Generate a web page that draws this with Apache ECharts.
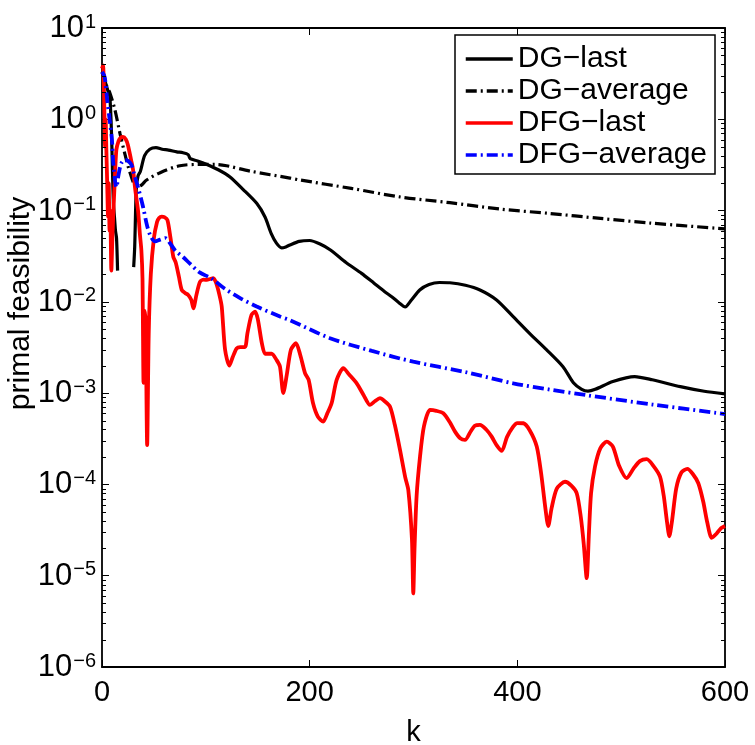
<!DOCTYPE html>
<html>
<head>
<meta charset="utf-8">
<script src="https://cdn.jsdelivr.net/npm/echarts@6/dist/echarts.min.js"></script>
<style>html,body{margin:0;padding:0;background:#fff}#c{width:755px;height:745px}</style>
</head>
<body>
<div id="c"></div>
<script>
// ---- data ----
const xTicks = [0, 200, 400, 600];
const yTickExponents = [1, 0, -1, -2, -3, -4, -5, -6];
const seriesNames = ['DG\u2212last', 'DG\u2212average', 'DFG\u2212last', 'DFG\u2212average'];

const kDGlast = [0, 3, 6, 7.5, 9, 10, 11, 12, 13, 14, 15, 16,
  30.5, 31.5, 33, 34.7, 37, 41, 46, 52, 58, 64, 72, 78, 83, 85, 92, 101, 112, 123, 136, 149, 157, 163, 168, 173, 177, 181, 190, 200, 210, 220, 235, 250, 262, 272, 279, 286, 292, 298, 306, 315, 325, 335, 350, 364, 380, 396, 412, 428, 444, 454, 462, 468, 475, 492, 513, 530, 557, 580, 600];
const vDGlast = [3.3, 2.6, 2.0, 1.8, 0.8, 0.3, 0.12, 0.085, 0.06, 0.05, 0.022, null,
  0.024, 0.04, 0.17, 0.24, 0.27, 0.40, 0.47, 0.49, 0.47, 0.46, 0.44, 0.43, 0.41, 0.37, 0.35, 0.32, 0.28, 0.235, 0.17, 0.12, 0.085, 0.056, 0.044, 0.039, 0.040, 0.042, 0.046, 0.047, 0.043, 0.037, 0.027, 0.0205, 0.016, 0.013, 0.0114, 0.0098, 0.0088, 0.0105, 0.0135, 0.0155, 0.0163, 0.0162, 0.0152, 0.0135, 0.0105, 0.0069, 0.0045, 0.0030, 0.00195, 0.0013, 0.0011, 0.00105, 0.0011, 0.00134, 0.00152, 0.0014, 0.00118, 0.00105, 0.00098];

const kDGavg = [0, 1, 4, 7.7, 12.5, 17.3, 22.2, 27, 33.4, 38, 43, 56, 75, 94, 110, 120, 143, 181, 191, 240, 287, 335, 383, 431, 480, 528, 600];
const vDGavg = [3.4, 3.3, 2.4, 1.93, 1.26, 0.70, 0.41, 0.26, 0.18, 0.19, 0.216, 0.26, 0.31, 0.32, 0.32, 0.31, 0.27, 0.227, 0.216, 0.175, 0.141, 0.122, 0.104, 0.093, 0.082, 0.073, 0.063];

const kDFGlast = [0, 1, 2, 3, 3.5, 4.2, 5, 5.8, 6.5, 7.3, 8, 9, 10, 11, 12.2, 13.8, 16, 18, 20.2, 23, 25, 28, 29.9, 32, 34.7, 36.5, 37.9, 39, 40, 41, 42, 43.5, 45, 47, 50, 53, 55, 57.5, 60, 63, 66, 68.7, 71, 74, 76.8, 80, 83, 86, 88, 91, 94.4, 98, 101, 104, 107.2, 110, 113, 115.3, 118.5, 122.6, 126, 129.7, 133, 137.7, 140, 144, 147.4, 150, 154, 157, 160, 163.4, 168.2, 171.4, 174.6, 178, 182, 186.8, 191, 195.5, 199, 203.2, 208, 213.1, 217, 221.2, 226, 232.4, 238, 245.3, 252, 258.1, 263, 267.7, 272, 277.4, 282, 287, 292, 295, 298.5, 299.8, 301, 303, 306.3, 310, 315.9, 322, 328.7, 335, 340, 345, 349.6, 355, 359, 364, 370, 375.3, 380, 385, 390, 396, 400, 405.8, 412, 418.7, 423, 427, 429.8, 433, 438, 445.9, 452, 457.2, 461, 464, 466.8, 469, 471, 474.8, 480, 486.1, 492, 498, 505.3, 512, 518, 524.6, 531, 537.4, 541, 544, 546.4, 549, 553, 558, 563.7, 569, 574.3, 579, 583, 587.2, 592, 596, 600];
const vDFGlast = [3.6, 3.9, 1.8, 0.5, 1.0, 0.46, 0.2, 0.086, 0.2, 0.06, 0.1, 0.022, 0.05, 0.10, 0.20, 0.46, 0.58, 0.63, 0.64, 0.60, 0.52, 0.36, 0.28, 0.17, 0.10, 0.055, 0.037, 0.018, 0.0013, 0.008, 0.006, 0.00027, 0.0045, 0.02, 0.05, 0.075, 0.083, 0.086, 0.085, 0.079, 0.05, 0.031, 0.027, 0.019, 0.0135, 0.0125, 0.0119, 0.0105, 0.0085, 0.012, 0.0166, 0.0175, 0.0174, 0.0178, 0.0182, 0.016, 0.012, 0.0089, 0.0030, 0.0020, 0.0025, 0.0031, 0.0032, 0.0032, 0.0045, 0.0072, 0.0078, 0.0065, 0.0035, 0.0027, 0.0027, 0.0027, 0.0023, 0.00195, 0.00100, 0.0016, 0.0030, 0.00352, 0.0026, 0.00166, 0.0014, 0.00078, 0.00055, 0.000488, 0.0006, 0.00078, 0.0014, 0.00188, 0.0016, 0.00128, 0.00095, 0.000743, 0.00082, 0.00088, 0.00082, 0.000711, 0.00045, 0.000239, 0.00012, 0.000087, 0.000025, 0.0000064, 0.00002, 0.000075, 0.000202, 0.00043, 0.000655, 0.00064, 0.000602, 0.00048, 0.000379, 0.00032, 0.000307, 0.00038, 0.00044, 0.000449, 0.0004, 0.000334, 0.00027, 0.000233, 0.00033, 0.00043, 0.00047, 0.000468, 0.00039, 0.00026, 0.00013, 0.000055, 0.000035, 0.000055, 0.00009, 0.000107, 0.000097, 0.00008, 0.000045, 0.000022, 0.0000094, 0.00003, 0.00008, 0.000157, 0.00025, 0.000294, 0.00026, 0.00016, 0.000117, 0.00015, 0.00018, 0.000189, 0.00016, 0.000122, 0.000075, 0.00004, 0.000027, 0.00004, 0.00009, 0.000135, 0.000148, 0.00013, 0.000103, 0.000065, 0.000038, 0.000026, 0.000029, 0.000033, 0.000035];

const kDFGavg = [0, 2.6, 5.1, 7.4, 9.6, 10.6, 12.8, 13.8, 16, 18.6, 21.9, 25, 28.2, 31, 34.7, 39.5, 43.6, 47, 51, 56, 61, 66, 71, 78, 85, 94, 105.6, 118, 133, 149, 171.4, 181, 219.6, 260, 299.8, 350, 396.1, 430, 466.8, 530, 600];
const vDFGavg = [3.3, 2.9, 1.6, 0.98, 0.59, 0.36, 0.20, 0.18, 0.25, 0.33, 0.36, 0.35, 0.32, 0.25, 0.18, 0.11, 0.067, 0.052, 0.046, 0.048, 0.05, 0.043, 0.036, 0.031, 0.026, 0.021, 0.018, 0.014, 0.011, 0.0089, 0.0069, 0.0063, 0.0040, 0.0029, 0.00221, 0.0017, 0.00128, 0.0011, 0.00095, 0.00075, 0.00059];

// ---- build ----
function pairs(ks, vs) { return ks.map((k, i) => [k, vs[i] === null ? '-' : vs[i]]); }
const FONT = '"Liberation Sans", Arial, Helvetica, sans-serif';
const dashDot = [11, 4, 2, 4];

const chart = echarts.init(document.getElementById('c'), null, {renderer: 'canvas'});
const supFmt = v => {
  const e = Math.round(Math.log10(v));
  return '{b|10}{s|' + (e < 0 ? '\u2212' + (-e) : String(e)) + '}';
};
const option = {
  animation: false,
  backgroundColor: '#fff',
  grid: {left: 102, right: 30, top: 28, bottom: 78, containLabel: false, outerBoundsMode: 'none'},
  legend: {
    show: true, orient: 'vertical', left: 455, top: 35,
    data: seriesNames,
    itemWidth: 47, itemHeight: 14, itemGap: 2,
    padding: [9, 8, 4, 9],
    borderColor: '#000', borderWidth: 1.5, backgroundColor: '#fff',
    itemStyle: {opacity: 0},
    lineStyle: {width: 3.5},
    textStyle: {fontFamily: FONT, fontSize: 30, color: '#000', lineHeight: 28}
  },
  xAxis: [{
    type: 'value', min: 0, max: 600, interval: 200, position: 'bottom',
    axisLine: {show: true, onZero: false, lineStyle: {color: '#000', width: 1.8}},
    axisTick: {show: true, inside: true, length: 7, lineStyle: {color: '#000', width: 1}},
    axisLabel: {show: true, margin: 11, fontFamily: FONT, fontSize: 29, color: '#000',
      formatter: v => xTicks.includes(v) ? String(v) : ''},
    splitLine: {show: false},
    name: 'k', nameLocation: 'middle', nameGap: 51, nameMoveOverlap: false,
    nameTextStyle: {fontFamily: FONT, fontSize: 29, color: '#000'}
  }, {
    type: 'value', min: 0, max: 600, interval: 200, position: 'top',
    axisLine: {show: true, onZero: false, lineStyle: {color: '#000', width: 1.8}},
    axisTick: {show: true, inside: true, length: 7, lineStyle: {color: '#000', width: 1}},
    axisLabel: {show: false}, splitLine: {show: false}
  }],
  yAxis: [{
    type: 'log', logBase: 10, min: 1e-6, max: 10, interval: 1, position: 'left',
    axisLine: {show: true, onZero: false, lineStyle: {color: '#000', width: 1.8}},
    axisTick: {show: true, inside: true, length: 7, lineStyle: {color: '#000', width: 1}},
    axisLabel: {show: true, margin: 6, formatter: supFmt,
      rich: {
        b: {fontFamily: FONT, fontSize: 31, color: '#000', lineHeight: 32, verticalAlign: 'bottom'},
        s: {fontFamily: FONT, fontSize: 20, color: '#000', lineHeight: 20, verticalAlign: 'top', padding: [0, 0, 14, 1]}
      }},
    splitLine: {show: false},
    name: 'primal feasibility', nameLocation: 'middle', nameGap: 66, nameRotate: 90, nameMoveOverlap: false,
    nameTextStyle: {fontFamily: FONT, fontSize: 30, color: '#000', padding: [0, 0, 0, 88]}
  }, {
    type: 'log', logBase: 10, min: 1e-6, max: 10, interval: 1, position: 'right',
    axisLine: {show: true, onZero: false, lineStyle: {color: '#000', width: 1.8}},
    axisTick: {show: true, inside: true, length: 7, lineStyle: {color: '#000', width: 1}},
    axisLabel: {show: false}, splitLine: {show: false}
  }],
  series: [
    {name: seriesNames[0], type: 'line', data: pairs(kDGlast, vDGlast), symbol: 'none', connectNulls: false, smooth: 0.25,
      lineStyle: {color: '#000', width: 3.2, type: 'solid'}, itemStyle: {color: '#000'}},
    {name: seriesNames[1], type: 'line', data: pairs(kDGavg, vDGavg), symbol: 'none', smooth: 0.3,
      lineStyle: {color: '#000', width: 3.2, type: dashDot}, itemStyle: {color: '#000'}},
    {name: seriesNames[2], type: 'line', data: pairs(kDFGlast, vDFGlast), symbol: 'none', smooth: 0.25,
      lineStyle: {color: '#ff0000', width: 3.8, type: 'solid'}, itemStyle: {color: '#ff0000'}},
    {name: seriesNames[3], type: 'line', data: pairs(kDFGavg, vDFGavg), symbol: 'none', smooth: 0.3,
      lineStyle: {color: '#0000ff', width: 3.8, type: dashDot}, itemStyle: {color: '#0000ff'}}
  ]
};
chart.setOption(option);

// minor log ticks (2..9 within each decade), placed with the axis scale
const g = [];
const xl = chart.convertToPixel({xAxisIndex: 0}, 0);
const xr = chart.convertToPixel({xAxisIndex: 0}, 600);
for (let d = -6; d < 1; d++) {
  for (let m = 2; m <= 9; m++) {
    const y = Math.round(chart.convertToPixel({yAxisIndex: 0}, m * Math.pow(10, d))) + 0.5;
    g.push({type: 'line', shape: {x1: xl, y1: y, x2: xl + 4, y2: y}, style: {stroke: '#000', lineWidth: 1}, z: 10});
    g.push({type: 'line', shape: {x1: xr, y1: y, x2: xr - 4, y2: y}, style: {stroke: '#000', lineWidth: 1}, z: 10});
  }
}
chart.setOption({graphic: g});
</script>
</body>
</html>
